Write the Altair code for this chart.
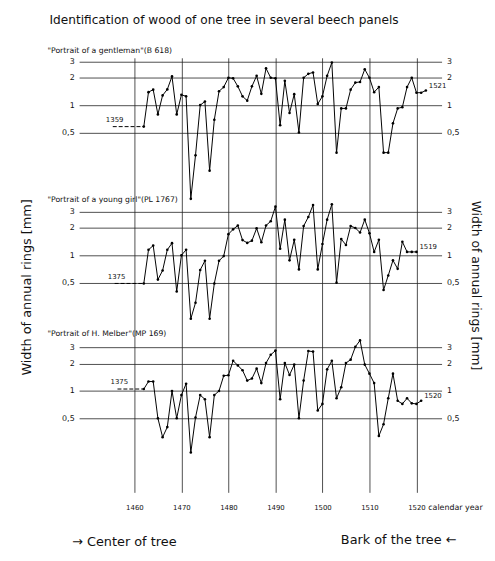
import math
import altair as alt
import pandas as pd

# ---------------- data ----------------
first_years = [1462, 1462, 1462]

values_gentleman = [
    0.58, 1.39, 1.48, 0.79, 1.28, 1.49, 2.07, 0.79, 1.30, 1.25,
    0.093, 0.28, 1.00, 1.095, 0.19, 0.69, 1.42, 1.58, 2.00, 1.97,
    1.61, 1.25, 1.12, 1.61, 2.10, 1.33, 2.54, 2.00, 1.97, 0.60,
    1.85, 0.82, 1.32, 0.50, 2.00, 2.21, 2.29, 1.03, 1.25, 2.10,
    2.94, 0.30, 0.92, 0.92, 1.48, 1.77, 1.80, 2.48, 2.00, 1.39,
    1.58, 0.30, 0.30, 0.63, 0.92, 0.95, 1.58, 2.00, 1.37, 1.37,
    1.45,
]
values_young_girl = [
    0.49, 1.15, 1.28, 0.54, 0.68, 1.15, 1.36, 0.40, 1.00, 1.15,
    0.20, 0.30, 0.69, 0.87, 0.20, 0.49, 0.87, 0.98, 1.71, 1.93,
    2.13, 1.47, 1.37, 1.45, 1.98, 1.39, 2.13, 2.37, 3.43, 1.18,
    2.47, 0.88, 1.48, 0.70, 2.10, 2.64, 3.58, 0.70, 1.33, 2.47,
    3.64, 0.50, 1.51, 1.30, 2.10, 2.00, 1.78, 2.47, 1.75, 1.09,
    1.48, 0.415, 0.60, 0.88, 0.71, 1.41, 1.09, 1.09, 1.09,
]
values_melber = [
    1.05, 1.27, 1.27, 0.50, 0.31, 0.40, 1.00, 0.50, 0.90, 1.20,
    0.21, 0.51, 0.90, 0.81, 0.31, 0.90, 1.00, 1.47, 1.49, 2.15,
    1.91, 1.69, 1.30, 1.37, 1.76, 1.22, 2.03, 2.50, 2.78, 0.81,
    2.03, 1.50, 1.95, 0.50, 1.30, 2.75, 2.71, 0.61, 0.72, 1.73,
    2.15, 0.83, 1.10, 2.03, 2.21, 3.06, 3.60, 1.95, 1.55, 1.22,
    0.32, 0.43, 0.83, 1.55, 0.78, 0.72, 0.83, 0.73, 0.72, 0.78,
]
series_values = [values_gentleman, values_young_girl, values_melber]

panel_titles = [
    '"Portrait of a gentleman"(B 618)',
    '"Portrait of a young girl"(PL 1767)',
    '"Portrait of H. Melber"(MP 169)',
]
start_labels = ["1359", "1375", "1375"]
end_labels = ["1521", "1519", "1520"]
lead_start_years = [1455.4, 1455.8, 1456.4]

grid_values = [3, 2, 1, 0.5]
decade_ticks = [1460, 1470, 1480, 1490, 1500, 1510, 1520]

main_title = "Identification of wood of one tree in several beech panels"
axis_title = "Width of annual rings [mm]"
x_title = "calendar year"
left_note = "\u2192 Center of tree"
right_note = "Bark of the tree \u2190"

# ---------------- layout ----------------
FONT = "DejaVu Sans"
PANEL_OFFSET = [0.0, -1.653, -3.146]   # log10 units between panels
X_DOMAIN = [1448.24, 1525.34]
Y_DOMAIN = [-4.262, 0.521]
W, H = 367, 440

xscale = alt.Scale(domain=X_DOMAIN, nice=False, zero=False)
yscale = alt.Scale(domain=Y_DOMAIN, nice=False, zero=False)

# ---------------- tables ----------------
rows = []
for p, vals in enumerate(series_values):
    for k, v in enumerate(vals):
        rows.append({"panel": p, "year": first_years[p] + k, "value": v,
                     "ypos": math.log10(v) + PANEL_OFFSET[p]})
lines_df = pd.DataFrame(rows)

lead_rows, start_rows, end_rows = [], [], []
for p, vals in enumerate(series_values):
    y0 = math.log10(vals[0]) + PANEL_OFFSET[p]
    lead_rows.append({"panel": p, "year": lead_start_years[p], "ypos": y0})
    lead_rows.append({"panel": p, "year": first_years[p], "ypos": y0})
    start_rows.append({"year": lead_start_years[p] + 0.4, "ypos": y0, "label": start_labels[p]})
    end_rows.append({"year": first_years[p] + len(vals) - 1,
                     "ypos": math.log10(vals[-1]) + PANEL_OFFSET[p], "label": end_labels[p]})
lead_df = pd.DataFrame(lead_rows)
start_df = pd.DataFrame(start_rows)
end_df = pd.DataFrame(end_rows)

tick_pos = [math.log10(v) + off for off in PANEL_OFFSET for v in grid_values]

val_expr = ("(datum.value > -0.8 ? pow(10, datum.value) : "
            "(datum.value > -2.4 ? pow(10, datum.value - (%f)) : pow(10, datum.value - (%f))))"
            % (PANEL_OFFSET[1], PANEL_OFFSET[2]))
label_expr = "replace('' + round(10*" + val_expr + ")/10, '.', ',')"

x_axis = alt.Axis(values=decade_ticks, format="d", grid=True, gridColor="#222",
                  gridWidth=0.8, domain=False, ticks=False, labelFont=FONT,
                  labelFontSize=7, labelColor="#111", labelPadding=11,
                  title=x_title, titleFont=FONT, titleFontSize=8,
                  titleFontWeight="normal", titleColor="#111", titleX=353, titleY=15,
                  titleAlign="left", titleBaseline="middle")

left_axis = alt.Axis(orient="left", values=tick_pos, labelExpr=label_expr,
                     grid=True, gridColor="#222", gridWidth=0.8, domain=False,
                     ticks=False, labelFont=FONT, labelFontSize=8, labelColor="#111",
                     labelPadding=5, title=axis_title, titleFont=FONT,
                     titleFontSize=13, titleFontWeight="normal", titleColor="#111",
                     titleAngle=270, titleX=-53, titleY=232, titleAlign="center",
                     titleBaseline="middle")

right_axis = alt.Axis(orient="right", values=tick_pos, labelExpr=label_expr,
                      grid=False, domain=False, ticks=False, labelFont=FONT,
                      labelFontSize=8, labelColor="#111", labelPadding=5,
                      title=axis_title, titleFont=FONT, titleFontSize=12.5,
                      titleFontWeight="normal", titleColor="#111", titleAngle=90,
                      titleX=34, titleY=230, titleAlign="center", titleBaseline="middle")

lines = alt.Chart(lines_df).mark_line(
    color="black", strokeWidth=1,
    point=alt.OverlayMarkDef(filled=True, color="black", size=7),
).encode(
    x=alt.X("year:Q", scale=xscale, axis=x_axis),
    y=alt.Y("ypos:Q", scale=yscale, axis=left_axis),
    detail="panel:N",
)

lead = alt.Chart(lead_df).mark_line(color="black", strokeWidth=1, strokeDash=[4, 2]).encode(
    x=alt.X("year:Q", scale=xscale, axis=None),
    y=alt.Y("ypos:Q", scale=yscale, axis=right_axis),
    detail="panel:N",
)

start_text = alt.Chart(start_df).mark_text(font=FONT, fontSize=7, color="#111", dy=-7).encode(
    x=alt.X("year:Q", scale=xscale, axis=None),
    y=alt.Y("ypos:Q", scale=yscale, axis=None),
    text="label:N",
)

end_text = alt.Chart(end_df).mark_text(font=FONT, fontSize=7, color="#111", align="left",
                                       dx=3, dy=-5).encode(
    x=alt.X("year:Q", scale=xscale, axis=None),
    y=alt.Y("ypos:Q", scale=yscale, axis=None),
    text="label:N",
)

ptitle_df = pd.DataFrame({"label": panel_titles, "py": [-7, 144, 280]})
ptitles = alt.Chart(ptitle_df).mark_text(font=FONT, fontSize=7.8, color="#111",
                                         align="left", baseline="middle").encode(
    x=alt.value(-32), y=alt.Y("py:Q", scale=None, axis=None), text="label:N",
)

title_txt = alt.Chart(pd.DataFrame({"t": [main_title]})).mark_text(
    font=FONT, fontSize=12.3, color="#111", align="left", baseline="middle"
).encode(x=alt.value(-30), y=alt.value(-38), text="t:N")

left_txt = alt.Chart(pd.DataFrame({"t": [left_note]})).mark_text(
    font=FONT, fontSize=13, color="#111", align="left", baseline="alphabetic"
).encode(x=alt.value(-7), y=alt.value(494), text="t:N")

right_txt = alt.Chart(pd.DataFrame({"t": [right_note]})).mark_text(
    font=FONT, fontSize=13, color="#111", align="left", baseline="alphabetic"
).encode(x=alt.value(265), y=alt.value(492), text="t:N")

chart = alt.layer(
    lines, lead, start_text, end_text, ptitles, title_txt, left_txt, right_txt
).resolve_axis(x="independent", y="independent").properties(
    width=W, height=H,
    autosize=alt.AutoSizeParams(type="none"),
    padding={"left": 72, "top": 47, "right": 46, "bottom": 58},
    background="white",
).configure_view(stroke=None)

chart.save("out.html", embed_options={"renderer": "svg", "actions": False})
